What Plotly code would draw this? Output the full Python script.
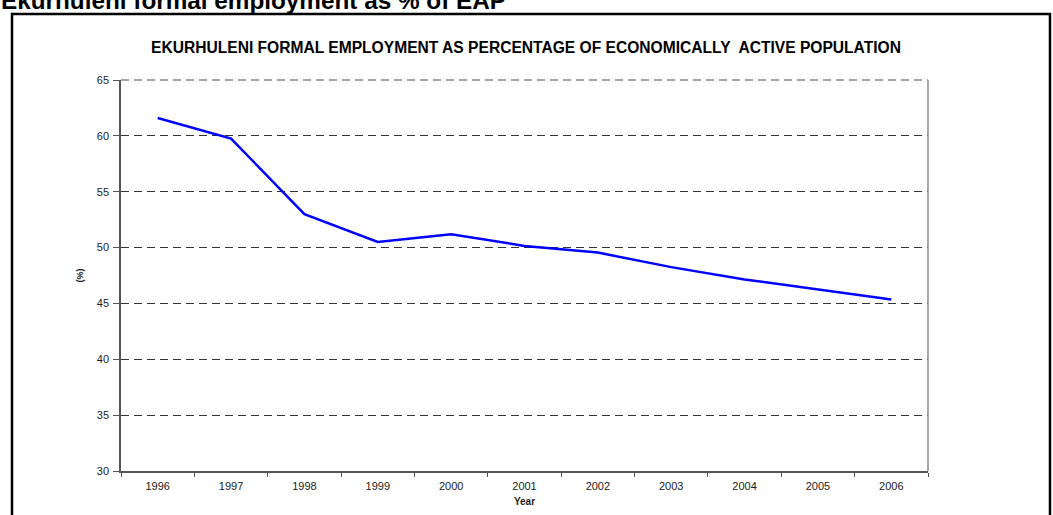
import plotly.graph_objects as go

years = ["1996", "1997", "1998", "1999", "2000", "2001", "2002", "2003", "2004", "2005", "2006"]
employment_pct = [61.6, 59.75, 53.0, 50.5, 51.2, 50.15, 49.55, 48.25, 47.15, 46.25, 45.35]
y_ticks = [30, 35, 40, 45, 50, 55, 60, 65]

W, H = 1053, 515
ML, MR, MT, MB = 121, 125, 80, 44
PW, PH = W - ML - MR, H - MT - MB


def px_x(x):
    return (x - ML) / PW


def px_y(y):
    return (H - MB - y) / PH


fig = go.Figure()
fig.add_trace(go.Scatter(
    x=years, y=employment_pct, mode="lines",
    line=dict(color="#0000ff", width=2.5),
    showlegend=False, hoverinfo="x+y",
))

tick_font = dict(family="Liberation Sans, Arial, sans-serif", size=11, color="#222")

fig.update_layout(
    width=W, height=H,
    margin=dict(l=ML, r=MR, t=MT, b=MB),
    paper_bgcolor="white", plot_bgcolor="white",
    font=tick_font,
    xaxis=dict(
        type="category", range=[-0.5, len(years) - 0.5], automargin=False,
        tickson="boundaries", ticks="outside", ticklen=4,
        tickcolor="#555", showline=True, linecolor="#555", linewidth=1.5,
        showgrid=False, tickfont=tick_font, ticklabelstandoff=4,
        title=dict(text="<b>Year</b>",
                   font=dict(family="Liberation Sans, Arial", size=10, color="#222"),
                   standoff=7),
    ),
    yaxis=dict(
        range=[30, 65], tickvals=y_ticks, ticks="outside", ticklen=6, automargin=False,
        tickcolor="#555", showline=True, linecolor="#555", linewidth=1.5,
        showgrid=True, gridcolor="#333", griddash="8px,5px", gridwidth=1,
        tickfont=tick_font, zeroline=False, ticklabelstandoff=2,
        title=dict(text="<b>(%)</b>",
                   font=dict(family="Liberation Sans, Arial", size=9, color="#222"),
                   standoff=12),
    ),
)

# dashed top gridline at 65 and solid right border of the plot area
fig.add_shape(type="line", xref="paper", yref="paper", x0=0, x1=1, y0=1, y1=1,
              line=dict(color="#888", width=1.5, dash="8px,5px"))
fig.add_shape(type="line", xref="paper", yref="paper", x0=1, x1=1, y0=0, y1=1,
              line=dict(color="#888", width=1.5))

# outer frame around the chart object
fig.add_shape(type="rect", xref="paper", yref="paper",
              x0=px_x(12), x1=px_x(1050), y0=px_y(560), y1=px_y(14),
              line=dict(color="black", width=2.5), fillcolor="rgba(0,0,0,0)", layer="above")

# chart title inside the frame
fig.add_annotation(
    text="<b>EKURHULENI FORMAL EMPLOYMENT AS PERCENTAGE OF ECONOMICALLY  ACTIVE POPULATION</b>",
    xref="paper", yref="paper", x=px_x(526), y=px_y(48), xanchor="center", yanchor="middle",
    showarrow=False, font=dict(family="Liberation Sans, Arial", size=15.6, color="black"),
)

# section heading above the frame
fig.add_annotation(
    text="<b>Ekurhuleni formal employment as % of EAP</b>",
    xref="paper", yref="paper", x=px_x(-1), y=px_y(0), xanchor="left", yanchor="middle",
    showarrow=False, font=dict(family="Liberation Sans, Arial", size=24.3, color="black"),
)

fig.write_html("out.html")
